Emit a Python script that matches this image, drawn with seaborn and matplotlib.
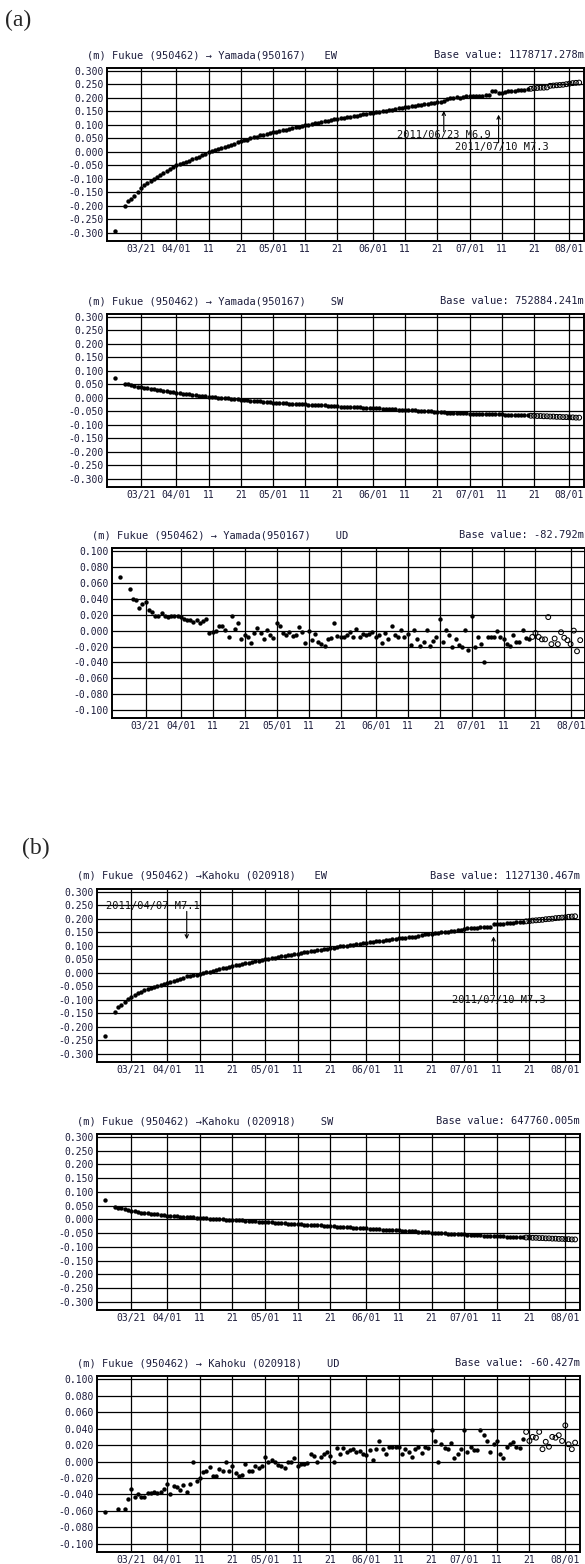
import numpy as np
import pandas as pd
import seaborn as sns
from matplotlib import pyplot as plt

N = np.nan

# daily solutions, 2011-03-13 .. 2011-08-04 (gaps = NaN)
DAYS = pd.date_range("2011-03-13", "2011-08-04", freq="D")
RAPID_FROM = pd.Timestamp("2011-07-20")   # open circles from here on

# Fukue -> Yamada, EW
EW_A_MAR = [-0.292, N, N, -0.200, -0.183, -0.176, -0.162, -0.148, -0.133, -0.124,
            -0.116, -0.108, -0.100, -0.093, -0.086, -0.079, -0.072, -0.064, -0.057]
EW_A_APR = [-0.048, -0.044, -0.040, -0.036, -0.032, -0.028, -0.024, -0.019, -0.013, -0.007,
            -0.002, 0.003, 0.007, 0.011, 0.015, 0.019, 0.023, 0.027, 0.031, 0.035,
            0.039, 0.043, 0.046, 0.050, 0.054, 0.057, 0.061, 0.064, 0.068, 0.071]
EW_A_MAY = [0.075, 0.074, 0.077, 0.080, 0.082, 0.085, 0.088, 0.091, 0.094, 0.097,
            0.100, 0.098, 0.103, 0.106, 0.108, 0.111, 0.113, 0.116, 0.118, 0.121,
            0.123, 0.125, 0.127, 0.129, 0.131, 0.133, 0.135, 0.137, 0.139, 0.141, 0.143]
EW_A_JUN = [0.145, 0.147, 0.149, 0.151, 0.153, 0.155, 0.157, 0.159, 0.161, 0.163,
            0.165, 0.167, 0.169, 0.171, 0.173, 0.175, 0.177, 0.179, 0.180, 0.182,
            0.184, 0.186, 0.188, 0.196, 0.199, 0.201, 0.203, 0.200, 0.204, 0.206]
EW_A_JUL = [0.208, 0.209, 0.209, 0.209, 0.209, 0.210, 0.210, 0.224, 0.227, 0.220,
            0.219, 0.222, 0.224, 0.225, 0.226, 0.228, 0.229, 0.231, 0.232, 0.234,
            0.236, 0.237, 0.238, 0.238, 0.239, 0.245, 0.246, 0.247, 0.248, 0.249, 0.251]
EW_A_AUG = [0.253, 0.255, 0.256, 0.257]

# Fukue -> Yamada, SW
SW_A_MAR = [0.075, N, N, 0.052, 0.050, 0.047, 0.044, 0.042, 0.040, 0.038,
            0.036, 0.034, 0.032, 0.030, 0.028, 0.026, 0.024, 0.023, 0.021]
SW_A_APR = [0.019, 0.018, 0.016, 0.015, 0.013, 0.012, 0.010, 0.009, 0.007, 0.006,
            0.004, 0.003, 0.002, 0.001, 0.000, -0.001, -0.002, -0.003, -0.004, -0.005,
            -0.007, -0.008, -0.009, -0.010, -0.011, -0.012, -0.013, -0.014, -0.015, -0.016]
SW_A_MAY = [-0.017, -0.018, -0.018, -0.019, -0.020, -0.021, -0.021, -0.022, -0.023, -0.024,
            -0.024, -0.025, -0.026, -0.026, -0.027, -0.028, -0.028, -0.029, -0.030, -0.030,
            -0.031, -0.032, -0.032, -0.033, -0.034, -0.034, -0.035, -0.035, -0.036, -0.037, -0.037]
SW_A_JUN = [-0.038, -0.038, -0.039, -0.040, -0.040, -0.041, -0.042, -0.042, -0.043, -0.044,
            -0.044, -0.045, -0.046, -0.046, -0.047, -0.048, -0.048, -0.049, -0.050, -0.051,
            -0.051, -0.052, -0.053, -0.054, -0.055, -0.055, -0.056, -0.057, -0.056, -0.057]
SW_A_JUL = [-0.058, -0.058, -0.059, -0.058, -0.059, -0.060, -0.060, -0.059, -0.060, -0.061,
            -0.061, -0.062, -0.062, -0.063, -0.063, -0.064, -0.064, -0.065, -0.065, -0.066,
            -0.066, -0.067, -0.067, -0.068, -0.068, -0.069, -0.069, -0.070, -0.070, -0.071, -0.071]
SW_A_AUG = [-0.072, -0.072, -0.073, -0.073]

# Fukue -> Yamada, UD
UD_A_MAR = [0.067, N, N, 0.052, 0.040, 0.038, 0.029, 0.033, 0.036, 0.026,
            0.024, 0.018, 0.018, 0.022, 0.019, 0.017, 0.018, 0.019, 0.018]
UD_A_APR = [0.017, 0.014, 0.013, 0.013, 0.011, 0.013, 0.009, 0.012, 0.015, -0.003,
            -0.002, 0.000, 0.006, 0.006, 0.001, -0.008, 0.018, 0.002, 0.010, -0.011,
            -0.006, -0.008, -0.016, -0.003, 0.003, -0.003, -0.011, 0.001, -0.006, -0.009]
UD_A_MAY = [0.010, 0.006, -0.003, -0.006, -0.002, -0.007, -0.005, 0.004, -0.002, -0.016,
            -0.001, -0.012, -0.004, -0.014, -0.017, -0.019, -0.010, -0.009, 0.010, -0.007,
            -0.008, -0.008, -0.005, -0.002, -0.008, 0.002, -0.008, -0.004, -0.006, -0.004, -0.002]
UD_A_JUN = [-0.008, -0.006, -0.016, -0.003, -0.010, 0.006, -0.006, -0.008, 0.001, -0.008,
            -0.004, -0.018, 0.001, -0.011, -0.019, -0.014, 0.001, -0.019, -0.013, -0.008,
            0.015, -0.014, 0.001, -0.005, -0.020, -0.010, -0.018, -0.021, 0.001, -0.024]
UD_A_JUL = [0.019, -0.021, -0.008, -0.017, -0.039, -0.008, -0.008, -0.008, -0.001, -0.008,
            -0.011, -0.017, -0.019, -0.006, -0.014, -0.014, 0.001, -0.009, -0.010, -0.008,
            -0.003, -0.008, -0.011, -0.011, 0.017, -0.017, -0.010, -0.017, -0.002, -0.009, -0.012]
UD_A_AUG = [-0.017, 0.000, -0.026, -0.012]

# Fukue -> Kahoku, EW
EW_B_MAR = [-0.235, N, N, -0.145, -0.128, -0.118, -0.108, -0.098, -0.090, -0.083,
            -0.076, -0.070, -0.065, -0.060, -0.055, -0.051, -0.047, -0.043, -0.040]
EW_B_APR = [-0.037, -0.034, -0.030, -0.027, -0.024, -0.020, -0.013, -0.010, -0.008, -0.006,
            -0.004, -0.001, 0.002, 0.005, 0.008, 0.011, 0.014, 0.017, 0.020, 0.022,
            0.025, 0.028, 0.030, 0.033, 0.035, 0.038, 0.040, 0.043, 0.045, 0.048]
EW_B_MAY = [0.050, 0.053, 0.055, 0.057, 0.060, 0.062, 0.064, 0.066, 0.068, 0.070,
            0.072, 0.074, 0.076, 0.078, 0.080, 0.082, 0.084, 0.086, 0.088, 0.090,
            0.092, 0.094, 0.096, 0.098, 0.099, 0.101, 0.103, 0.105, 0.106, 0.108, 0.110]
EW_B_JUN = [0.112, 0.113, 0.115, 0.117, 0.118, 0.120, 0.121, 0.123, 0.124, 0.126,
            0.128, 0.129, 0.131, 0.132, 0.134, 0.135, 0.137, 0.141, 0.143, 0.144,
            0.146, 0.147, 0.149, 0.150, 0.152, 0.153, 0.155, 0.156, 0.158, 0.160]
EW_B_JUL = [0.163, 0.165, 0.166, 0.167, 0.168, 0.169, 0.170, 0.171, 0.172, 0.180,
            0.181, 0.182, 0.183, 0.184, 0.185, 0.186, 0.188, 0.189, 0.190, 0.191,
            0.192, 0.194, 0.195, 0.196, 0.197, 0.199, 0.200, 0.201, 0.203, 0.204, 0.205]
EW_B_AUG = [0.206, 0.208, 0.209, 0.210]

# Fukue -> Kahoku, SW
SW_B_MAR = [0.070, N, N, 0.045, 0.043, 0.040, 0.037, 0.034, 0.031, 0.029,
            0.027, 0.025, 0.023, 0.022, 0.020, 0.019, 0.018, 0.016, 0.015]
SW_B_APR = [0.014, 0.013, 0.012, 0.011, 0.010, 0.010, 0.009, 0.008, 0.007, 0.006,
            0.006, 0.005, 0.004, 0.003, 0.002, 0.002, 0.001, 0.000, -0.001, -0.001,
            -0.002, -0.003, -0.004, -0.004, -0.005, -0.006, -0.007, -0.007, -0.008, -0.009]
SW_B_MAY = [-0.010, -0.010, -0.011, -0.012, -0.013, -0.013, -0.014, -0.015, -0.016, -0.016,
            -0.017, -0.018, -0.019, -0.019, -0.020, -0.021, -0.022, -0.022, -0.023, -0.024,
            -0.025, -0.025, -0.026, -0.027, -0.028, -0.028, -0.029, -0.030, -0.031, -0.031, -0.032]
SW_B_JUN = [-0.033, -0.034, -0.034, -0.035, -0.036, -0.037, -0.037, -0.038, -0.039, -0.040,
            -0.040, -0.041, -0.042, -0.043, -0.043, -0.044, -0.045, -0.046, -0.046, -0.047,
            -0.048, -0.049, -0.049, -0.050, -0.051, -0.052, -0.052, -0.053, -0.054, -0.055]
SW_B_JUL = [-0.055, -0.056, -0.057, -0.057, -0.058, -0.058, -0.059, -0.059, -0.060, -0.061,
            -0.061, -0.062, -0.062, -0.063, -0.063, -0.064, -0.064, -0.065, -0.065, -0.066,
            -0.066, -0.067, -0.067, -0.068, -0.068, -0.069, -0.069, -0.070, -0.070, -0.071, -0.071]
SW_B_AUG = [-0.072, -0.072, -0.073, -0.073]

# Fukue -> Kahoku, UD
UD_B_MAR = [-0.061, N, N, N, -0.058, N, -0.058, -0.046, -0.033, -0.043,
            -0.040, -0.043, -0.043, -0.038, -0.038, -0.037, -0.038, -0.037, -0.033]
UD_B_APR = [-0.027, -0.039, -0.030, -0.031, -0.035, -0.028, -0.037, -0.027, 0.000, -0.024,
            -0.020, -0.013, -0.011, -0.007, -0.018, -0.017, -0.009, -0.011, 0.000, -0.011,
            -0.005, -0.014, -0.018, -0.016, -0.003, -0.012, -0.011, -0.006, -0.008, -0.006]
UD_B_MAY = [0.005, 0.000, 0.002, 0.000, -0.004, -0.006, -0.008, 0.000, 0.000, 0.004,
            -0.006, -0.003, -0.003, -0.002, 0.009, 0.007, 0.000, 0.005, 0.009, 0.012,
            0.007, 0.000, 0.017, 0.009, 0.016, 0.012, 0.014, 0.015, 0.012, 0.013, 0.009]
UD_B_JUN = [0.008, 0.014, 0.002, 0.015, 0.025, 0.015, 0.009, 0.018, 0.018, 0.018,
            0.018, 0.009, 0.015, 0.012, 0.005, 0.015, 0.018, 0.010, 0.018, 0.017,
            0.038, 0.025, 0.000, 0.021, 0.017, 0.015, 0.023, 0.004, 0.009, 0.015]
UD_B_JUL = [0.038, 0.012, 0.018, 0.014, 0.014, 0.038, 0.032, 0.025, 0.012, 0.021,
            0.025, 0.009, 0.004, 0.018, 0.021, 0.024, 0.018, 0.017, 0.027, 0.036,
            0.025, 0.030, 0.029, 0.036, 0.015, 0.024, 0.018, 0.030, 0.029, 0.032, 0.025]
UD_B_AUG = [0.044, 0.021, 0.015, 0.023]

TICK_DATES = ["2011-03-21", "2011-04-01", "2011-04-11", "2011-04-21", "2011-05-01",
              "2011-05-11", "2011-05-21", "2011-06-01", "2011-06-11", "2011-06-21",
              "2011-07-01", "2011-07-11", "2011-07-21", "2011-08-01"]
TICK_LABELS = ["03/21", "04/01", "11", "21", "05/01", "11", "21", "06/01",
               "11", "21", "07/01", "11", "21", "08/01"]
HORIZ_TICKS = [0.30, 0.25, 0.20, 0.15, 0.10, 0.05, 0.0, -0.05, -0.10, -0.15, -0.20, -0.25, -0.30]
UD_TICKS = [0.10, 0.08, 0.06, 0.04, 0.02, 0.0, -0.02, -0.04, -0.06, -0.08, -0.10]

YAMADA = "(m) Fukue (950462) \u2192 Yamada(950167)"
KAHOKU = "(m) Fukue (950462) \u2192Kahoku (020918)"

W, H = 585, 1564
X0, X1 = pd.Timestamp("2011-03-10 12:00"), pd.Timestamp("2011-08-05 12:00")
INK = "#1c1c3c"


def series(*months):
    return [v for m in months for v in m]


PANELS = [
    # box in pixels: left, top, right, bottom
    dict(box=(107, 68, 584, 241), vals=series(EW_A_MAR, EW_A_APR, EW_A_MAY, EW_A_JUN, EW_A_JUL, EW_A_AUG),
         ylim=(-0.330, 0.311), ticks=HORIZ_TICKS, left=YAMADA + "   EW", right="Base value: 1178717.278m"),
    dict(box=(107, 314, 584, 487), vals=series(SW_A_MAR, SW_A_APR, SW_A_MAY, SW_A_JUN, SW_A_JUL, SW_A_AUG),
         ylim=(-0.330, 0.311), ticks=HORIZ_TICKS, left=YAMADA + "    SW", right="Base value: 752884.241m"),
    dict(box=(112, 548, 585, 718), vals=series(UD_A_MAR, UD_A_APR, UD_A_MAY, UD_A_JUN, UD_A_JUL, UD_A_AUG),
         ylim=(-0.110, 0.104), ticks=UD_TICKS, left=YAMADA + "    UD", right="Base value: -82.792m"),
    dict(box=(97, 889, 580, 1062), vals=series(EW_B_MAR, EW_B_APR, EW_B_MAY, EW_B_JUN, EW_B_JUL, EW_B_AUG),
         ylim=(-0.330, 0.311), ticks=HORIZ_TICKS, left=KAHOKU + "   EW", right="Base value: 1127130.467m"),
    dict(box=(97, 1134, 580, 1310), vals=series(SW_B_MAR, SW_B_APR, SW_B_MAY, SW_B_JUN, SW_B_JUL, SW_B_AUG),
         ylim=(-0.330, 0.311), ticks=HORIZ_TICKS, left=KAHOKU + "    SW", right="Base value: 647760.005m"),
    dict(box=(97, 1376, 580, 1552), vals=series(UD_B_MAR, UD_B_APR, UD_B_MAY, UD_B_JUN, UD_B_JUL, UD_B_AUG),
         ylim=(-0.110, 0.104), ticks=UD_TICKS, left=KAHOKU.replace("\u2192K", "\u2192 K") + "    UD",
         right="Base value: -60.427m"),
]

# (panel index, arrow date, arrow tail, arrow head, label, label x, label y)
QUAKES = [
    (0, "2011-06-23", 0.075, 0.152, "2011/06/23 M6.9", "2011-06-23", 0.063),
    (0, "2011-07-10", 0.034, 0.138, "2011/07/10 M7.3", "2011-07-11", 0.019),
    (3, "2011-04-07", 0.228, 0.125, "2011/04/07 M7.1", "2011-03-27 12:00", 0.247),
    (3, "2011-07-10", -0.080, 0.135, "2011/07/10 M7.3", "2011-07-11 12:00", -0.100),
]


def draw_panel(fig, cfg):
    l, t, r, b = cfg["box"]
    ax = fig.add_axes([l / W, 1 - b / H, (r - l) / W, (b - t) / H])
    df = pd.DataFrame({"date": DAYS, "value": cfg["vals"]}).dropna()
    final = df[df["date"] < RAPID_FROM]
    rapid = df[df["date"] >= RAPID_FROM]
    sns.scatterplot(data=final, x="date", y="value", color="black", s=10,
                    linewidth=0, ax=ax, legend=False, zorder=3)
    sns.scatterplot(data=rapid, x="date", y="value", facecolor="none", edgecolor="black",
                    s=12, linewidth=0.75, ax=ax, legend=False, zorder=3)
    ax.set_xlim(X0, X1)
    ax.set_ylim(*cfg["ylim"])
    ax.set_xticks(pd.to_datetime(TICK_DATES))
    ax.set_xticklabels(TICK_LABELS)
    ax.set_yticks(cfg["ticks"])
    ax.set_yticklabels([f"{v:.3f}" for v in cfg["ticks"]])
    ax.set_xlabel("")
    ax.set_ylabel("")
    ax.set_axisbelow(True)
    ax.grid(True, color="black", linewidth=0.9)
    ax.tick_params(length=0, pad=2.5, labelsize=7, colors=INK)
    for sp in ax.spines.values():
        sp.set_linewidth(1.4)
        sp.set_color("black")
    fig.text((l - 20) / W, 1 - (t - 13) / H, cfg["left"], fontsize=7.5, color=INK, va="center")
    fig.text(min(r, 584) / W, 1 - (t - 13) / H, cfg["right"], fontsize=7.5, color=INK,
             va="center", ha="right")
    return ax


def main():
    sns.set_style("white")
    plt.rcParams["font.family"] = ["DejaVu Sans Mono", "DejaVu Sans"]
    fig = plt.figure(figsize=(W / 100, H / 100), dpi=100)
    axes = [draw_panel(fig, cfg) for cfg in PANELS]

    for idx, day, tail, head, label, lx, ly in QUAKES:
        ax = axes[idx]
        d = pd.Timestamp(day)
        ax.annotate("", xy=(d, head), xytext=(d, tail),
                    arrowprops=dict(arrowstyle="->", color="black", lw=0.8,
                                    shrinkA=0, shrinkB=0, mutation_scale=6))
        ax.text(pd.Timestamp(lx), ly, label, fontsize=7.5, color="#111111",
                ha="center", va="center", zorder=4)

    fig.text(5 / W, 1 - 20 / H, "(a)", fontsize=17, family="Liberation Serif", va="center")
    fig.text(22 / W, 1 - 848 / H, "(b)", fontsize=17, family="Liberation Serif", va="center")

    fig.savefig("out.png", dpi=100, facecolor="white")


if __name__ == "__main__":
    main()
